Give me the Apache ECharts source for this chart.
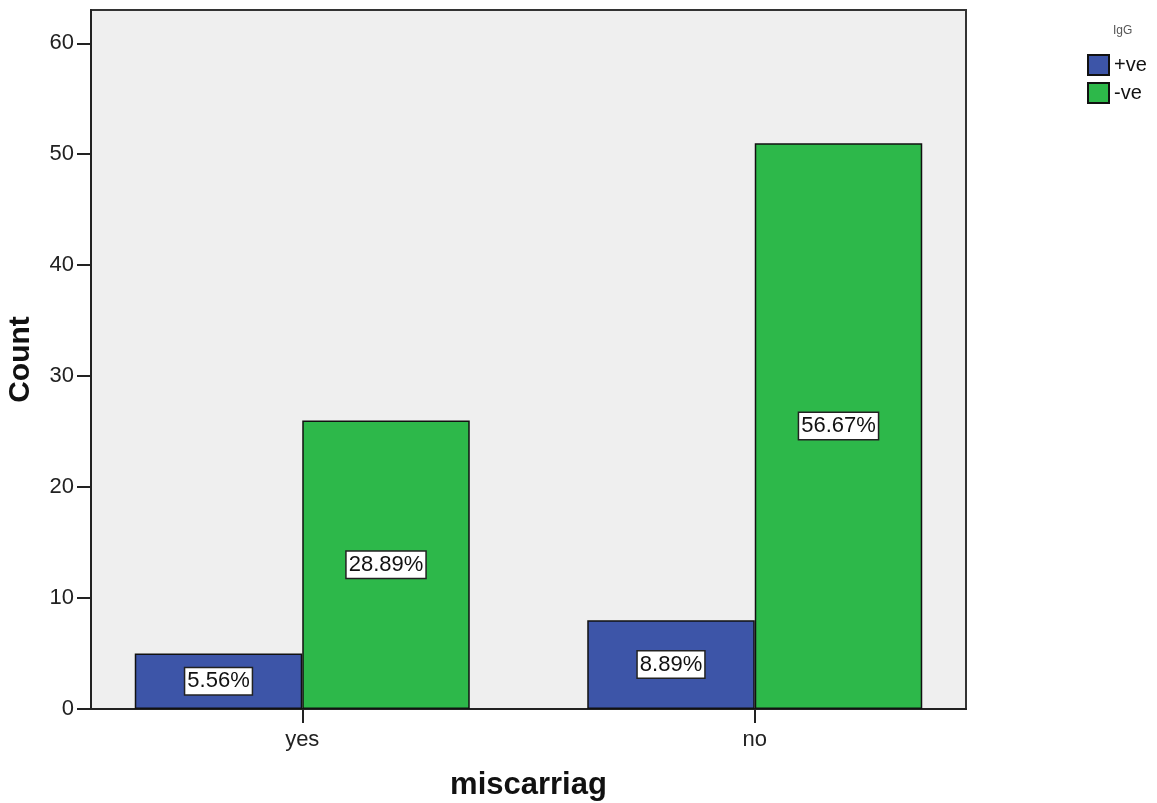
<!DOCTYPE html>
<html>
<head>
<meta charset="utf-8">
<script src="https://cdn.jsdelivr.net/npm/echarts@6/dist/echarts.min.js"></script>
<style>
html,body{margin:0;padding:0;background:#fff;}
#chart{width:1157px;height:803px;}
</style>
</head>
<body>
<div id="chart"></div>
<script>
var categories = ['yes', 'no'];
var seriesNames = ['+ve', '-ve'];
var posValues = [5, 8];
var negValues = [26, 51];
var posLabels = ['5.56%', '8.89%'];
var negLabels = ['28.89%', '56.67%'];
var yTicks = [0, 10, 20, 30, 40, 50, 60];
var yMax = 63;

var chart = echarts.init(document.getElementById('chart'));
var FONT = 'Liberation Sans, Arial, sans-serif';

function labelStyle(labels) {
  return {
    show: true,
    position: 'inside',
    formatter: function (p) { return labels[p.dataIndex]; },
    color: '#111',
    fontFamily: FONT,
    fontSize: 22,
    lineHeight: 22,
    backgroundColor: '#fff',
    borderColor: '#222',
    borderWidth: 1.5,
    padding: [2, 2, 2, 2]
  };
}

var option = {
  animation: false,
  backgroundColor: '#fff',
  title: {
    text: 'IgG',
    left: 1108,
    top: 20,
    textStyle: { fontFamily: FONT, fontSize: 12, fontWeight: 'normal', color: '#555' }
  },
  legend: {
    orient: 'vertical',
    left: 1082,
    top: 49,
    itemWidth: 21,
    itemHeight: 20,
    itemGap: 6,
    icon: 'rect',
    textStyle: { fontFamily: FONT, fontSize: 20, color: '#111' },
    data: seriesNames
  },
  grid: [
    { left: 91, right: 191, top: 10, bottom: 94, outerBoundsMode: 'none', containLabel: false, show: true, backgroundColor: '#efefef', borderColor: '#333', borderWidth: 2 },
    { left: 76, right: 176, top: 10, bottom: 94, outerBoundsMode: 'none', containLabel: false }
  ],
  xAxis: [
    {
      gridIndex: 0, type: 'category', data: categories,
      axisLine: { show: true, lineStyle: { color: '#222', width: 2 } },
      axisTick: { show: false }, axisLabel: { show: false },
      name: 'miscarriag', nameLocation: 'middle', nameGap: 61,
      nameTextStyle: { fontFamily: FONT, fontSize: 31, fontWeight: 'bold', color: '#111' }
    },
    {
      gridIndex: 1, type: 'category', data: categories,
      axisLine: { show: false },
      axisTick: { show: true, alignWithLabel: true, length: 14, lineStyle: { color: '#222', width: 2 } },
      axisLabel: { fontFamily: FONT, fontSize: 22, color: '#222', margin: 20 }
    }
  ],
  yAxis: [
    {
      gridIndex: 0, type: 'value', min: 0, max: yMax,
      splitLine: { show: false },
      axisLine: { show: true, lineStyle: { color: '#222', width: 2 } },
      axisTick: { show: true, length: 14, customValues: yTicks, lineStyle: { color: '#222', width: 2 } },
      axisLabel: { customValues: yTicks, fontFamily: FONT, fontSize: 22, color: '#222', margin: 17 },
      name: 'Count', nameLocation: 'middle', nameGap: 55,
      nameTextStyle: { fontFamily: FONT, fontSize: 30, fontWeight: 'bold', color: '#111' }
    },
    {
      gridIndex: 1, type: 'value', min: 0, max: yMax, show: false,
      splitLine: { show: false }
    }
  ],
  series: [
    {
      name: seriesNames[0], type: 'bar', xAxisIndex: 1, yAxisIndex: 1,
      data: posValues, barWidth: 167.5, barGap: '0%',
      itemStyle: { color: '#3d55a8', borderColor: '#111', borderWidth: 1.5 },
      label: labelStyle(posLabels)
    },
    {
      name: seriesNames[1], type: 'bar', xAxisIndex: 1, yAxisIndex: 1,
      data: negValues, barWidth: 167.5, barGap: '0%',
      itemStyle: { color: '#2db84a', borderColor: '#111', borderWidth: 1.5 },
      label: labelStyle(negLabels)
    }
  ]
};
chart.setOption(option);
</script>
</body>
</html>
